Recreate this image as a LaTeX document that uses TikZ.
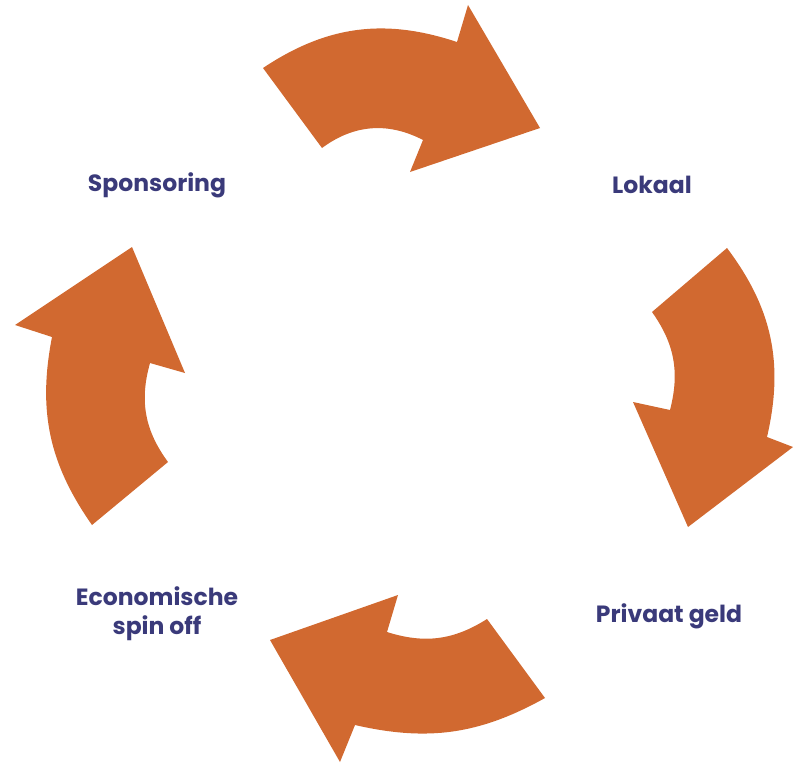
\documentclass[tikz,border=0pt]{standalone}
\usepackage{fontspec}
\setmainfont{Poppins}
\definecolor{arr}{RGB}{209,105,48}
\definecolor{lbl}{RGB}{58,58,122}
\begin{document}
\begin{tikzpicture}[x=1pt,y=-1pt,
  arrowshape/.style={fill=arr,draw=none},
  label/.style={text=lbl,font=\fontsize{23.5}{29}\selectfont\bfseries,align=center,inner sep=0pt}]
\useasboundingbox (0,0) rectangle (794,765);
% top arrow
\fill[arrowshape] (263,68) to[bend left=26] (457,42)
  -- (468,5) -- (540,128) -- (410,172) -- (423,140)
  to[bend right=32] (322,148) -- cycle;
% right arrow
\fill[arrowshape] (727,248) to[bend left=25] (767,437)
  -- (793,447) -- (688,527) -- (633,402) -- (670,410)
  to[bend right=25] (652,312) -- cycle;
% bottom arrow
\fill[arrowshape] (545,698) to[bend left=21] (355,725)
  -- (340,762) -- (270,640) -- (398,595) -- (387,632)
  to[bend right=25] (487,619) -- cycle;
% left arrow
\fill[arrowshape] (92,525) to[bend left=23] (52,337)
  -- (15,325) -- (132,247) -- (185,373) -- (150,363)
  to[bend right=26] (168,462) -- cycle;
% labels
\node[label] (sponsoring) at (157,185) {Sponsoring};
\node[label] (lokaal) at (652,185) {Lokaal};
\node[label] (privaat) at (669,616) {Privaat geld};
\node[label] (econ) at (157,614) {Economische\\spin off};
\end{tikzpicture}
\end{document}
